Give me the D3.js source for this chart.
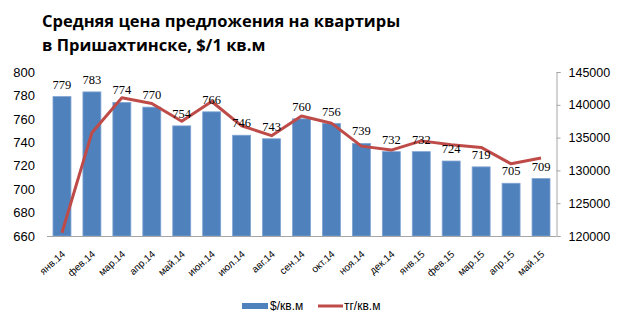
<!DOCTYPE html>
<html><head><meta charset="utf-8">
<script src="https://cdn.jsdelivr.net/npm/d3@7"></script>
<style>body{margin:0;background:#fff}svg{display:block}</style>
</head><body>
<svg id="c" width="625" height="328"></svg>
<script>
const months = ["янв.14","фев.14","мар.14","апр.14","май.14","июн.14","июл.14","авг.14","сен.14","окт.14","ноя.14","дек.14","янв.15","фев.15","мар.15","апр.15","май.15"];
const usdPerM2 = [779,783,774,770,754,766,746,743,760,756,739,732,732,724,719,705,709];
const tgPerM2 = [120500,135750,141080,140200,137500,140500,136800,135300,138300,137200,133700,133100,134500,133900,133500,131000,131900];
const leftTicks = [660,680,700,720,740,760,780,800];
const rightTicks = [120000,125000,130000,135000,140000,145000];

const svg = d3.select("#c");
const m = {l:47, r:556, t:72, b:236};
const x = d3.scaleBand().domain(months).range([m.l, m.r]).paddingInner(0.4).paddingOuter(0.2);
const yL = d3.scaleLinear().domain([660,800]).range([m.b, m.t]);
const yR = d3.scaleLinear().domain([120000,145000]).range([m.b, m.t]);
const axisFont = "'Liberation Sans', Arial, sans-serif";

// title
const title = svg.append("text").attr("x",42).attr("font-family","'Open Sans', sans-serif")
  .attr("font-weight","bold").attr("font-size",16.5).attr("fill","#000");
title.append("tspan").attr("x",42).attr("y",27).text("Средняя цена предложения на квартиры");
title.append("tspan").attr("x",42).attr("y",51).text("в Пришахтинске, $/1 кв.м");

// bars
svg.append("g").selectAll("rect").data(usdPerM2).join("rect")
  .attr("x",(d,i)=>x(months[i])).attr("width",x.bandwidth())
  .attr("y",d=>yL(d)).attr("height",d=>m.b-yL(d))
  .attr("fill","#4F81BD").attr("stroke","#7EA3D3").attr("stroke-width",0.8);

// bottom axis line
svg.append("line").attr("x1",m.l).attr("x2",m.r).attr("y1",m.b+0.5).attr("y2",m.b+0.5)
  .attr("stroke","#A6A6A6").attr("stroke-width",1);

// left axis
const gl = svg.append("g").attr("transform",`translate(${m.l},0)`)
  .call(d3.axisLeft(yL).tickValues(leftTicks).tickSize(0).tickPadding(12));
gl.select(".domain").remove();
gl.selectAll("text").attr("font-family",axisFont).attr("font-size",13).attr("fill","#000");

// right axis
const gr = svg.append("g").attr("transform",`translate(${m.r+0.5},0)`)
  .call(d3.axisRight(yR).tickValues(rightTicks).tickFormat(d3.format("d")).tickSize(4).tickPadding(8));
gr.select(".domain").attr("stroke","#A6A6A6");
gr.selectAll("line").attr("stroke","#A6A6A6");
gr.selectAll("text").attr("font-family",axisFont).attr("font-size",12.5).attr("fill","#000");

// x labels
svg.append("g").selectAll("text").data(months).join("text")
  .attr("transform",d=>`translate(${x(d)+x.bandwidth()/2+4},${m.b+19}) rotate(-42)`)
  .attr("text-anchor","end").attr("font-family",axisFont)
  .attr("font-size",10).attr("fill","#000").text(d=>d);

// line
svg.append("path").datum(tgPerM2)
  .attr("d",d3.line().x((d,i)=>x(months[i])+x.bandwidth()/2).y(d=>yR(d)))
  .attr("fill","none").attr("stroke","#BE4B48").attr("stroke-width",3).attr("stroke-linejoin","round");

// data labels
svg.append("g").selectAll("text").data(usdPerM2).join("text")
  .attr("x",(d,i)=>x(months[i])+x.bandwidth()/2).attr("y",d=>yL(d)-8)
  .attr("text-anchor","middle").attr("font-family","'Liberation Serif', serif")
  .attr("font-size",12.5).attr("fill","#000").text(d=>d);

// legend
const lg = svg.append("g").attr("font-family",axisFont).attr("font-size",12);
lg.append("rect").attr("x",242).attr("y",303).attr("width",26).attr("height",6).attr("fill","#4F81BD");
lg.append("text").attr("x",270).attr("y",310).text("$/кв.м");
lg.append("line").attr("x1",318).attr("x2",343).attr("y1",306).attr("y2",306).attr("stroke","#BE4B48").attr("stroke-width",3);
lg.append("text").attr("x",344).attr("y",310).text("тг/кв.м");
</script>
</body></html>
